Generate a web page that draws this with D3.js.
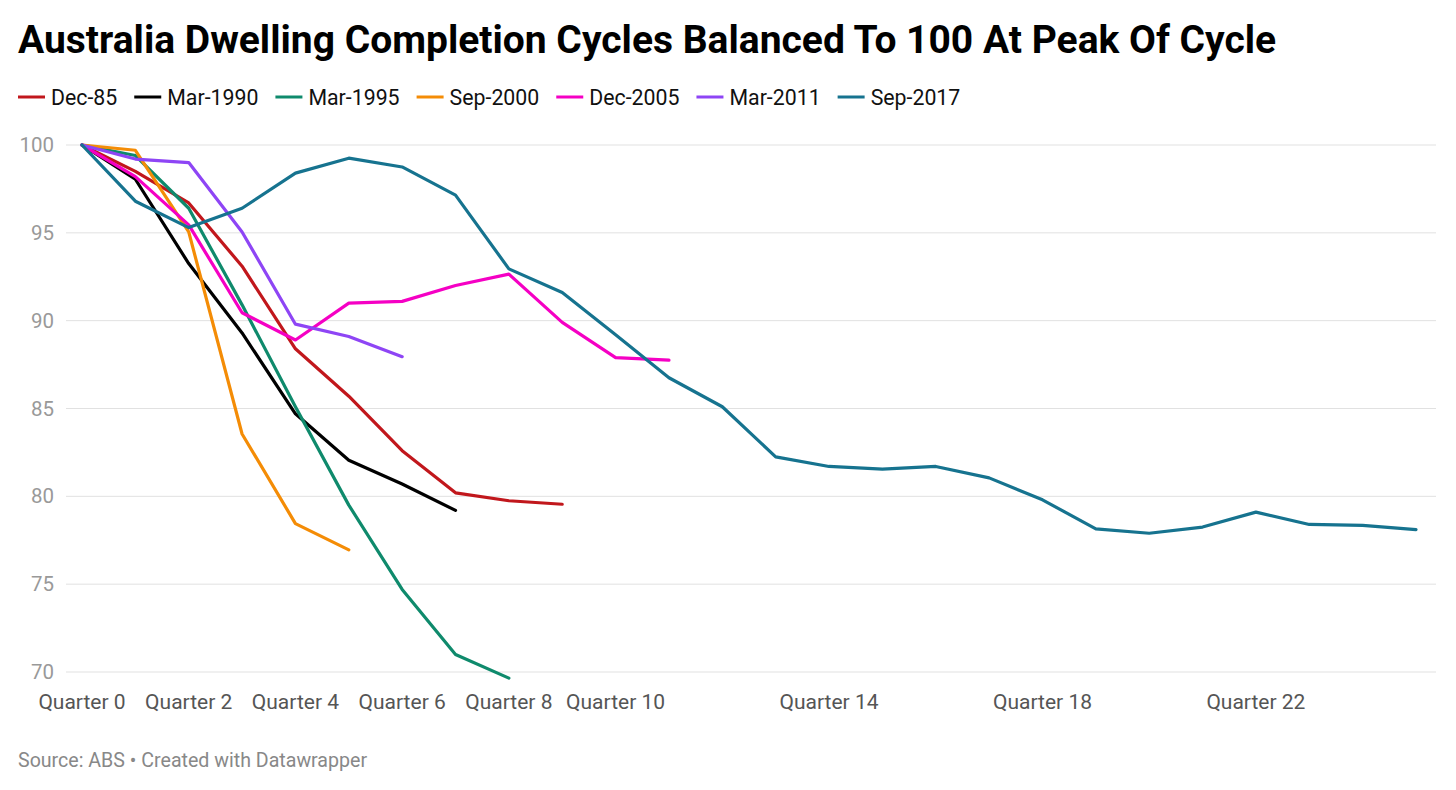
<!DOCTYPE html>
<html>
<head>
<meta charset="utf-8">
<script src="https://cdn.jsdelivr.net/npm/d3@7"></script>
<style>
  body { margin: 0; background: #fff; font-family: Roboto, "Noto Sans", sans-serif; }
  svg { display: block; }
</style>
</head>
<body>
<svg id="chart" width="1456" height="790"></svg>
<script>
// data, values indexed by quarter from peak
const seriesNames = ['Dec-85', 'Mar-1990', 'Mar-1995', 'Sep-2000', 'Dec-2005', 'Mar-2011', 'Sep-2017'];
const seriesColors = ['#c1171c', '#000000', '#0f8a6c', '#f48c06', '#f500c4', '#8e45f5', '#16738f'];

const dec85 = [100, 98.5, 96.7, 93.1, 88.4, 85.7, 82.6, 80.2, 79.75, 79.55];
const mar1990 = [100, 98.05, 93.25, 89.3, 84.7, 82.05, 80.7, 79.2];
const mar1995 = [100, 99.4, 96.4, 90.9, 85.1, 79.5, 74.7, 71.0, 69.65];
const sep2000 = [100, 99.7, 95.05, 83.55, 78.45, 76.95];
const dec2005 = [100, 98.2, 95.45, 90.45, 88.9, 91.0, 91.1, 92.0, 92.65, 89.9, 87.9, 87.75];
const mar2011 = [100, 99.2, 99.0, 95.05, 89.8, 89.1, 87.95];
const sep2017 = [100, 96.8, 95.3, 96.4, 98.4, 99.25, 98.75, 97.15, 92.95, 91.6, 89.2, 86.75,
                 85.1, 82.25, 81.7, 81.55, 81.7, 81.05, 79.8, 78.15, 77.9, 78.25, 79.1, 78.4,
                 78.35, 78.1];

const yTicks = [100, 95, 90, 85, 80, 75, 70];
const xTicks = [0, 2, 4, 6, 8, 10, 14, 18, 22];

const allSeries = [dec85, mar1990, mar1995, sep2000, dec2005, mar2011, sep2017];

const svg = d3.select('#chart');

// title
svg.append('text')
  .attr('x', 18).attr('y', 53)
  .style('font-size', '39px').style('font-weight', 700)
  .style('fill', '#000')
  .text('Australia Dwelling Completion Cycles Balanced To 100 At Peak Of Cycle');

// legend
let lx = 18;
seriesNames.forEach((name, i) => {
  const g = svg.append('g').attr('transform', 'translate(' + lx + ',97)');
  g.append('line')
    .attr('x1', 0).attr('x2', 27).attr('y1', 0).attr('y2', 0)
    .attr('stroke', seriesColors[i]).attr('stroke-width', 3);
  const t = g.append('text')
    .attr('x', 33).attr('y', 8)
    .style('font-size', '21.3px').style('fill', '#111')
    .text(name);
  lx += 33 + t.node().getComputedTextLength() + 17;
});

const x = d3.scaleLinear().domain([0, 25]).range([82, 1416]);
const y = d3.scaleLinear().domain([70, 100]).range([672, 145]);

// grid
svg.append('g')
  .selectAll('line')
  .data(yTicks)
  .join('line')
  .attr('x1', 66).attr('x2', 1436)
  .attr('y1', d => y(d)).attr('y2', d => y(d))
  .attr('stroke', '#e1e1e1').attr('stroke-width', 1);

// y labels
svg.append('g')
  .selectAll('text')
  .data(yTicks)
  .join('text')
  .attr('x', 54).attr('y', d => y(d) + 7)
  .attr('text-anchor', 'end')
  .style('font-size', '20.5px').style('fill', '#999')
  .text(d => d);

// x labels
svg.append('g')
  .selectAll('text')
  .data(xTicks)
  .join('text')
  .attr('x', d => x(d)).attr('y', 709)
  .attr('text-anchor', 'middle')
  .style('font-size', '21px').style('fill', '#555')
  .text(d => 'Quarter ' + d);

// lines
const line = d3.line()
  .x((d, i) => x(i))
  .y(d => y(d));

svg.append('g')
  .selectAll('path')
  .data(allSeries)
  .join('path')
  .attr('d', d => line(d))
  .attr('fill', 'none')
  .attr('stroke', (d, i) => seriesColors[i])
  .attr('stroke-width', 3.2)
  .attr('stroke-linejoin', 'round')
  .attr('stroke-linecap', 'round');

// footer
svg.append('text')
  .attr('x', 18).attr('y', 767)
  .style('font-size', '19.6px').style('fill', '#888')
  .text('Source: ABS \u2022 Created with Datawrapper');
</script>
</body>
</html>
